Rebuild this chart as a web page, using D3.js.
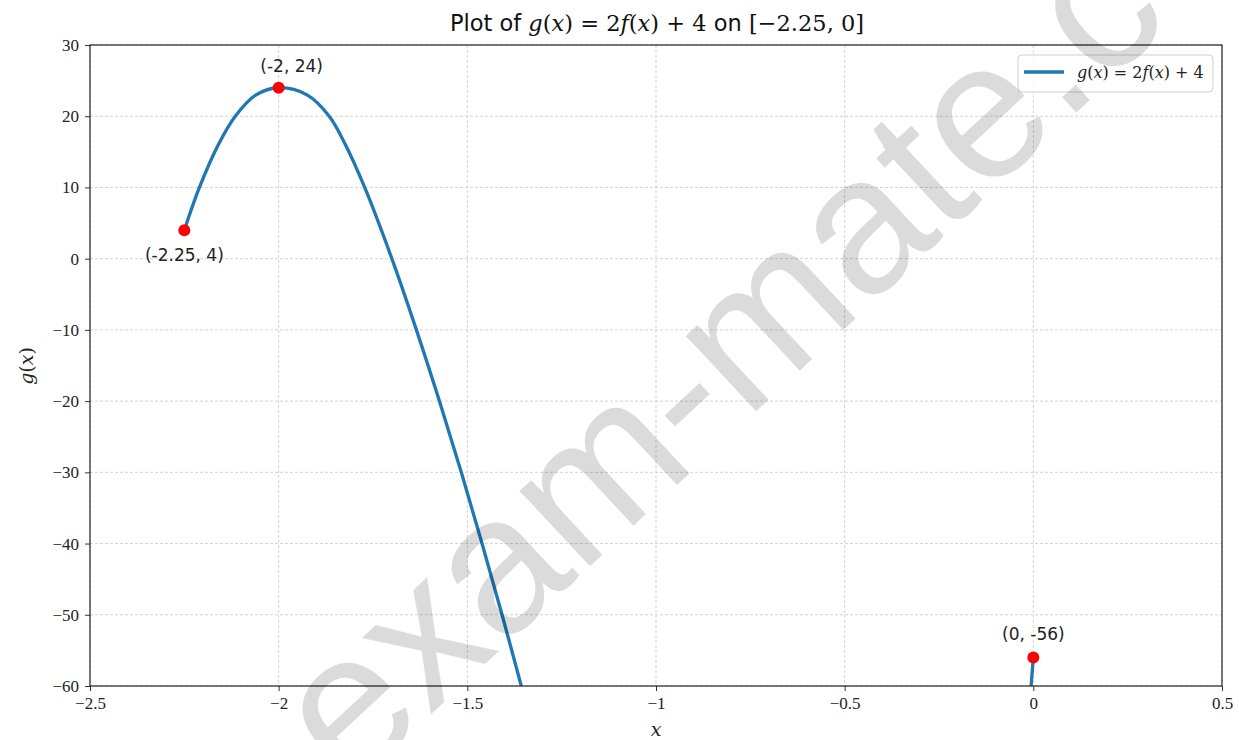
<!DOCTYPE html>
<html>
<head>
<meta charset="utf-8">
<script src="https://cdn.jsdelivr.net/npm/d3@7"></script>
<style>
  html, body { margin: 0; padding: 0; background: #fff; }
  svg { display: block; }
</style>
</head>
<body>
<svg id="chart" width="1239" height="740"></svg>
<script>
// ---- data ----
const curveXLeft  = [-2.25, -2.21, -2.16, -2.115, -2.06, -2.0, -1.925, -1.866, -1.823, -1.772, -1.700, -1.635, -1.574, -1.516, -1.461, -1.408, -1.357];
const curveYLeft  = [4, 10, 16, 20, 23, 24, 23, 20, 16, 10, 0, -10, -20, -30, -40, -50, -60];
const curveXRight = [-0.006, 0];
const curveYRight = [-60, -56];
const pointX = [-2.25, -2, 0];
const pointY = [4, 24, -56];
const pointLabels = ["(-2.25, 4)", "(-2, 24)", "(0, -56)"];
const xTicks = [-2.5, -2, -1.5, -1, -0.5, 0, 0.5];
const xTickLabels = ["\u22122.5", "\u22122", "\u22121.5", "\u22121", "\u22120.5", "0", "0.5"];
const yTicks = [30, 20, 10, 0, -10, -20, -30, -40, -50, -60];
const yTickLabels = ["30", "20", "10", "0", "\u221210", "\u221220", "\u221230", "\u221240", "\u221250", "\u221260"];

// ---- layout ----
const W = 1239, H = 740;
const L = 90, R = 1222, T = 45, B = 686;
const svg = d3.select("#chart");
svg.append("rect").attr("width", W).attr("height", H).attr("fill", "#fff");

const x = d3.scaleLinear().domain([-2.5, 0.5]).range([L, R]);
const y = d3.scaleLinear().domain([-60, 30]).range([B, T]);

const serif = "'Liberation Serif', serif";
const mserif = "'DejaVu Serif', serif";
const sans = "'DejaVu Sans', sans-serif";

// grid
const grid = svg.append("g");
xTicks.forEach(v => grid.append("line")
  .attr("x1", x(v)).attr("x2", x(v)).attr("y1", T).attr("y2", B)
  .attr("stroke", "#c8c8c8").attr("stroke-width", 0.8).attr("stroke-dasharray", "3,2"));
yTicks.forEach(v => grid.append("line")
  .attr("x1", L).attr("x2", R).attr("y1", y(v)).attr("y2", y(v))
  .attr("stroke", "#c8c8c8").attr("stroke-width", 0.8).attr("stroke-dasharray", "3,2"));

// clip
svg.append("clipPath").attr("id", "clip").append("rect")
  .attr("x", L).attr("y", T).attr("width", R - L).attr("height", B - T);

// curves
const line = d3.line().x(d => x(d[0])).y(d => y(d[1])).curve(d3.curveCatmullRom.alpha(0.5));
const plot = svg.append("g").attr("clip-path", "url(#clip)");
plot.append("path").datum(d3.zip(curveXLeft, curveYLeft))
  .attr("d", line).attr("fill", "none").attr("stroke", "#1f77b4").attr("stroke-width", 3.3);
plot.append("path").datum(d3.zip(curveXRight, curveYRight))
  .attr("d", line).attr("fill", "none").attr("stroke", "#1f77b4").attr("stroke-width", 3.3);

// points
svg.append("g").selectAll("circle").data(d3.zip(pointX, pointY)).join("circle")
  .attr("cx", d => x(d[0])).attr("cy", d => y(d[1])).attr("r", 6).attr("fill", "#ff0000");

// point labels
const labelDx = [0, 13, 0];
const labelDy = [31, -16, -18];
svg.append("g").selectAll("text").data(pointLabels).join("text")
  .attr("x", (d, i) => x(pointX[i]) + labelDx[i])
  .attr("y", (d, i) => y(pointY[i]) + labelDy[i])
  .attr("text-anchor", "middle")
  .attr("font-family", sans).attr("font-size", 17).attr("fill", "#222")
  .text(d => d);

// axes
const xAxis = d3.axisBottom(x).tickValues(xTicks).tickSize(5).tickPadding(6)
  .tickFormat((d, i) => xTickLabels[i]);
const gx = svg.append("g").attr("transform", `translate(0,${B})`).call(xAxis);
gx.select(".domain").remove();
gx.selectAll("text").attr("font-family", serif).attr("font-size", 17).attr("fill", "#222");
gx.selectAll("line").attr("stroke", "#333");

const yAxis = d3.axisLeft(y).tickValues(yTicks).tickSize(5).tickPadding(6)
  .tickFormat((d, i) => yTickLabels[i]);
const gy = svg.append("g").attr("transform", `translate(${L},0)`).call(yAxis);
gy.select(".domain").remove();
gy.selectAll("text").attr("font-family", serif).attr("font-size", 17).attr("fill", "#222");
gy.selectAll("line").attr("stroke", "#333");

// frame
svg.append("rect").attr("x", L).attr("y", T).attr("width", R - L).attr("height", B - T)
  .attr("fill", "none").attr("stroke", "#222").attr("stroke-width", 1.2);

// helper for math text
function mathText(sel, parts) {
  parts.forEach(p => {
    sel.append("tspan").text(p[0])
      .attr("font-family", p[1] === "sans" ? sans : mserif)
      .attr("font-style", p[1] === "i" ? "italic" : "normal");
  });
}

// title
const title = svg.append("text").attr("x", 657).attr("y", 31).attr("text-anchor", "middle")
  .attr("font-size", 22.5).attr("fill", "#111");
mathText(title, [["Plot of ", "sans"], ["g", "i"], ["(", "n"], ["x", "i"], [") = 2", "n"], ["f", "i"],
  ["(", "n"], ["x", "i"], [") + 4", "n"], [" on ", "sans"], ["[\u22122.25, 0]", "n"]]);

// axis labels
const xl = svg.append("text").attr("x", 656).attr("y", 736).attr("text-anchor", "middle")
  .attr("font-size", 19).attr("fill", "#222");
mathText(xl, [["x", "i"]]);
const yl = svg.append("text").attr("transform", "translate(33,366) rotate(-90)")
  .attr("text-anchor", "middle").attr("font-size", 19).attr("fill", "#222");
mathText(yl, [["g", "i"], ["(", "n"], ["x", "i"], [")", "n"]]);

// legend
const lg = svg.append("g");
lg.append("rect").attr("x", 1018).attr("y", 55).attr("width", 195).attr("height", 37).attr("rx", 4)
  .attr("fill", "#fff").attr("fill-opacity", 0.85).attr("stroke", "#d0d0d0");
lg.append("line").attr("x1", 1024).attr("x2", 1064).attr("y1", 72).attr("y2", 72)
  .attr("stroke", "#1f77b4").attr("stroke-width", 3.3);
const lt = lg.append("text").attr("x", 1077).attr("y", 78).attr("font-size", 16).attr("fill", "#222");
mathText(lt, [["g", "i"], ["(", "n"], ["x", "i"], [") = 2", "n"], ["f", "i"], ["(", "n"], ["x", "i"], [") + 4", "n"]]);

// watermark
svg.append("text").attr("transform", "translate(350,790) rotate(-43)")
  .attr("font-family", "'Liberation Sans', Arial, sans-serif").attr("font-size", 195)
  .attr("fill", "#000").attr("fill-opacity", 0.14)
  .text("exam-mate.com");
</script>
</body>
</html>
